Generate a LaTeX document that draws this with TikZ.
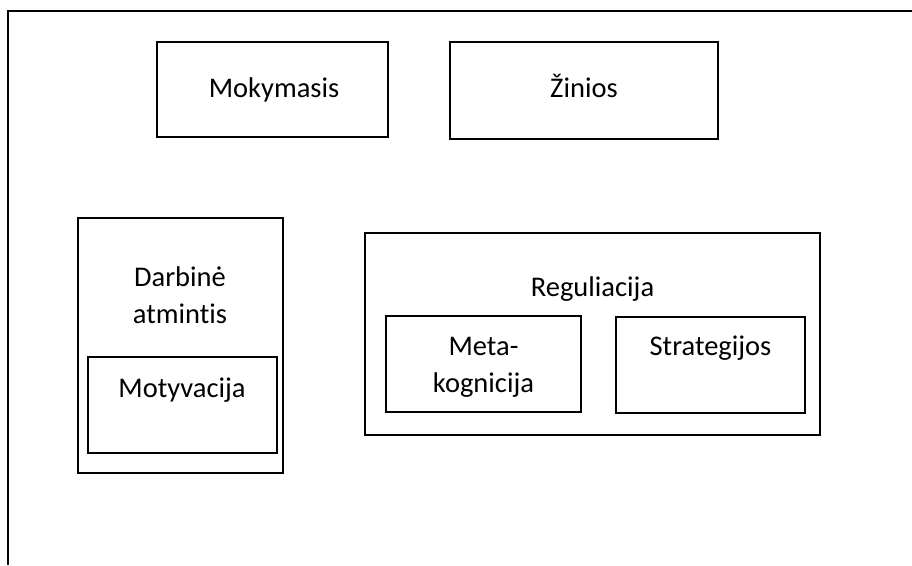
\documentclass[tikz,border=0pt]{standalone}
\usepackage{fontspec}
\setmainfont[Ligatures=NoCommon]{Carlito}
\begin{document}
\begin{tikzpicture}[x=1pt,y=-1pt,
  box/.style={draw=black,line width=2.2pt,minimum width=#1,inner sep=0pt},
  lbl/.style={font=\fontsize{28.5}{37}\selectfont,align=center,inner sep=0pt,anchor=base}]
  \useasboundingbox (0,0) rectangle (912,565);
  % open frame: top and left sides only
  \coordinate (ftr) at (912,11);
  \coordinate (ftl) at (8,11);
  \coordinate (fbl) at (8,565);
  \draw[line width=2.2pt] (ftr) -- (ftl) -- (fbl);

  % top row
  \node[box=231pt,minimum height=95pt] (mok) at (272.5,89.5) {};
  \node[lbl] (mokt) at (274,97) {Mokymasis};
  \node[box=268pt,minimum height=97pt] (zin) at (584,90.5) {};
  \node[lbl] (zint) at (584,97) {Žinios};

  % working memory with motivation inside (two-line labels sit on their last baseline)
  \node[box=205pt,minimum height=255pt] (darb) at (180.5,345.5) {};
  \node[lbl] (darbt) at (180,323) {Darbinė\\atmintis};
  \node[box=189pt,minimum height=96pt] (mot) at (182.5,405) {};
  \node[lbl] (mott) at (182,397) {Motyvacija};

  % regulation with metacognition and strategies inside
  \node[box=455pt,minimum height=202pt] (reg) at (592.5,334) {};
  \node[lbl] (regt) at (592.5,296) {Reguliacija};
  \node[box=195pt,minimum height=96pt] (meta) at (483.5,364) {};
  \node[lbl] (metat) at (483.5,392) {Meta-\\kognicija};
  \node[box=189pt,minimum height=96pt] (strat) at (710.5,365) {};
  \node[lbl] (stratt) at (710.5,355) {Strategijos};
\end{tikzpicture}
\end{document}
